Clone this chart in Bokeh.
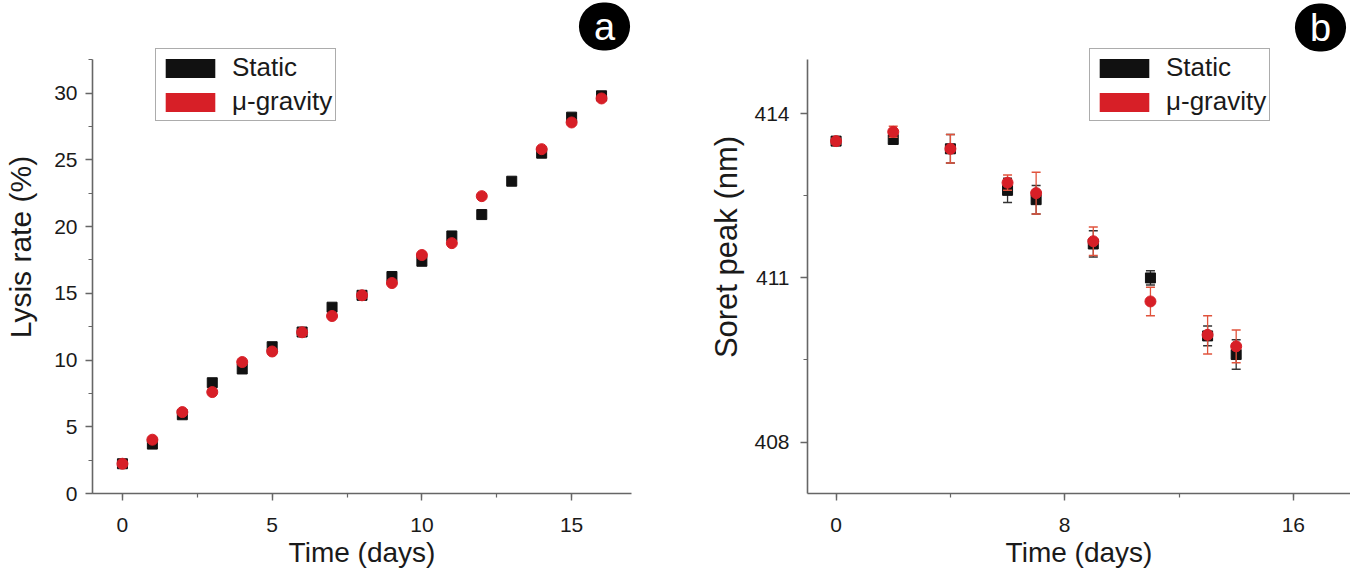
from bokeh.plotting import figure
from bokeh.layouts import row
from bokeh.models import SingleIntervalTicker, Legend, LegendItem, Label
from bokeh.embed import file_html
from bokeh.resources import INLINE

# ---------------- data ----------------
# Panel a: lysis rate (%)
days_a = [0, 1, 2, 3, 4, 5, 6, 7, 8, 9, 10, 11, 12, 13, 14, 15, 16]
static_a = [2.23, 3.7, 5.9, 8.3, 9.33, 11.0, 12.1, 13.96, 14.85, 16.26, 17.4, 19.3, 20.9, 23.4, 25.5, 28.2, 29.8]
days_a_g = [0, 1, 2, 3, 4, 5, 6, 7, 8, 9, 10, 11, 12, 14, 15, 16]
grav_a = [2.23, 4.03, 6.1, 7.6, 9.85, 10.64, 12.08, 13.3, 14.85, 15.77, 17.87, 18.76, 22.28, 25.8, 27.8, 29.6]

# Panel b: Soret peak (nm)
days_b = [0, 2, 4, 6, 7, 9, 11, 13, 14]
static_b = [413.50, 413.53, 413.36, 412.60, 412.43, 411.62, 411.00, 409.94, 409.60]
static_b_err = [0.05, 0.06, 0.26, 0.22, 0.26, 0.24, 0.13, 0.18, 0.27]
grav_b = [413.50, 413.67, 413.36, 412.74, 412.55, 411.67, 410.57, 409.96, 409.75]
grav_b_err = [0.05, 0.10, 0.26, 0.14, 0.38, 0.26, 0.26, 0.35, 0.30]

series_names = ["Static", "\u03bc-gravity"]
panel_tags = ["a", "b"]

BLACK = "#111111"
RED = "#d71f27"
RED_ERR = "#e0533c"
AXIS = "#666666"
FONT = "Liberation Sans"


def style(p, xint, yint, ybounds):
    for ax in (p.xaxis[0], p.yaxis[0]):
        ax.axis_line_color = AXIS
        ax.axis_line_width = 1.6
        ax.major_tick_line_color = AXIS
        ax.minor_tick_line_color = AXIS
        ax.major_tick_line_width = 1.4
        ax.minor_tick_line_width = 1.2
        ax.major_tick_in = 0
        ax.major_tick_out = 7
        ax.minor_tick_in = 0
        ax.minor_tick_out = 4
        ax.major_label_text_font = FONT
        ax.major_label_text_font_size = "21px"
        ax.major_label_text_color = "#1a1a1a"
        ax.axis_label_text_font = FONT
        ax.axis_label_text_font_style = "normal"
        ax.axis_label_text_color = "#1a1a1a"
    p.xaxis[0].ticker = SingleIntervalTicker(interval=xint, num_minor_ticks=2)
    p.yaxis[0].ticker = SingleIntervalTicker(interval=yint, num_minor_ticks=2)
    p.yaxis[0].bounds = ybounds
    p.xaxis[0].axis_label_text_font_size = "28px"
    p.xaxis[0].major_label_standoff = 17
    p.xaxis[0].axis_label_standoff = 2
    p.yaxis[0].major_label_standoff = 8
    p.xgrid.visible = False
    p.ygrid.visible = False
    p.outline_line_color = None
    p.background_fill_color = "white"
    p.border_fill_color = "white"


def add_legend(p, loc, xs, ys_s, ys_g):
    # zero-size quads under the markers: they only provide the legend swatches
    q1 = p.quad(left=xs[:1], right=xs[:1], top=ys_s[:1], bottom=ys_s[:1],
                fill_color=BLACK, line_color="#333333", line_alpha=0.0)
    q2 = p.quad(left=xs[:1], right=xs[:1], top=ys_g[:1], bottom=ys_g[:1],
                fill_color=RED, line_color="#666666", line_alpha=0.0)
    leg = Legend(items=[LegendItem(label=series_names[0], renderers=[q1]),
                        LegendItem(label=series_names[1], renderers=[q2])],
                 location=loc)
    leg.glyph_width = 62
    leg.glyph_height = 24
    leg.label_height = 24
    leg.label_standoff = 11
    leg.spacing = 3
    leg.padding = 3
    leg.margin = 0
    leg.label_text_font = FONT
    leg.label_text_font_size = "26px"
    leg.label_text_color = "#1a1a1a"
    leg.border_line_color = "#5a5a5a"
    leg.border_line_width = 1.3
    leg.background_fill_alpha = 1.0
    p.add_layout(leg)


def add_tag(p, txt, sx, sy):
    lab = Label(x=sx, y=sy, x_units="screen", y_units="screen", text=txt,
                text_font=FONT, text_font_size="38px", text_color="white",
                text_align="center", text_baseline="middle",
                background_fill_color="black", padding=(15, 3), border_radius=26)
    p.add_layout(lab)


# ---------------- panel a ----------------
pa = figure(width=700, height=574, x_range=(-1, 17), y_range=(0, 36.94),
            output_backend="svg", toolbar_location=None, title=None,
            min_border_left=92, min_border_right=69, min_border_top=0, min_border_bottom=81)
style(pa, 5, 5, (0, 32.5))
pa.xaxis[0].axis_label = "Time (days)"
pa.yaxis[0].axis_label = "Lysis rate (%)"
pa.yaxis[0].axis_label_text_font_size = "30px"
pa.yaxis[0].axis_label_standoff = 14
add_legend(pa, (63, 372), days_a, static_a, grav_a)
pa.scatter(days_a, static_a, marker="square", size=10, fill_color=BLACK, line_color=BLACK)
pa.scatter(days_a_g, grav_a, marker="circle", size=11, fill_color=RED, line_color=RED)
add_tag(pa, panel_tags[0], 512, 467)

# ---------------- panel b ----------------
pb = figure(width=650, height=574, x_range=(-1, 18), y_range=(407.06, 416.07),
            output_backend="svg", toolbar_location=None, title=None,
            min_border_left=107, min_border_right=0, min_border_top=0, min_border_bottom=81)
style(pb, 8, 3, (407.06, 415.0))
pb.xaxis[0].axis_label = "Time (days)"
pb.yaxis[0].axis_label = "Soret peak (nm)"
pb.yaxis[0].axis_label_text_font_size = "31px"
pb.yaxis[0].major_label_standoff = 11
pb.yaxis[0].axis_label_standoff = 7

s_lo = [v - e for v, e in zip(static_b, static_b_err)]
s_hi = [v + e for v, e in zip(static_b, static_b_err)]
g_lo = [v - e for v, e in zip(grav_b, grav_b_err)]
g_hi = [v + e for v, e in zip(grav_b, grav_b_err)]

add_legend(pb, (282, 372), days_b, static_b, grav_b)
pb.segment(days_b, s_lo, days_b, s_hi, line_color="#333333", line_width=1.3)
pb.scatter(days_b, s_lo, marker="dash", size=9, line_color="#333333", line_width=1.5)
pb.scatter(days_b, s_hi, marker="dash", size=9, line_color="#333333", line_width=1.5)
pb.scatter(days_b, static_b, marker="square", size=10, fill_color=BLACK, line_color=BLACK)
pb.segment(days_b, g_lo, days_b, g_hi, line_color=RED_ERR, line_width=1.3)
pb.scatter(days_b, g_lo, marker="dash", size=9, line_color=RED_ERR, line_width=1.5)
pb.scatter(days_b, g_hi, marker="dash", size=9, line_color=RED_ERR, line_width=1.5)
pb.scatter(days_b, grav_b, marker="circle", size=11, fill_color=RED, line_color=RED)
add_tag(pb, panel_tags[1], 513, 466)

layout = row(pa, pb)
open("out.html", "w").write(file_html(layout, INLINE))
